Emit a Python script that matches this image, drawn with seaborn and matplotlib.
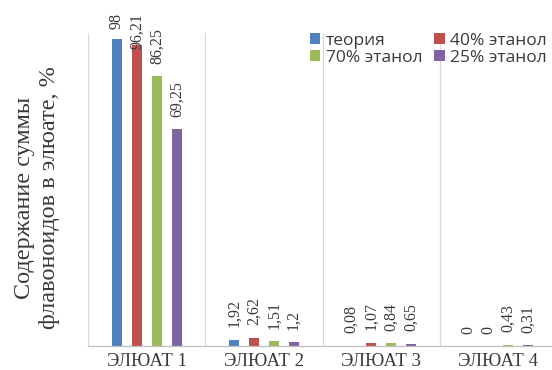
import matplotlib
matplotlib.use("Agg")
import matplotlib.pyplot as plt
import seaborn as sns
import pandas as pd
from matplotlib.ticker import FixedLocator

# Flavonoid content in each eluate, %
eluates = ["ЭЛЮАТ 1", "ЭЛЮАТ 2", "ЭЛЮАТ 3", "ЭЛЮАТ 4"]
series = ["теория", "40% этанол", "70% этанол", "25% этанол"]
theory = [98, 1.92, 0.08, 0]
ethanol_40 = [96.21, 2.62, 1.07, 0]
ethanol_70 = [86.25, 1.51, 0.84, 0.43]
ethanol_25 = [69.25, 1.2, 0.65, 0.31]
colors = ["#4F81BD", "#C0504D", "#9BBB59", "#8064A2"]

rows = []
for name, vals in zip(series, [theory, ethanol_40, ethanol_70, ethanol_25]):
    for el, v in zip(eluates, vals):
        rows.append({"eluate": el, "series": name, "value": v})
df = pd.DataFrame(rows)

sns.set_theme(style="white")
plt.rcParams["font.family"] = ["Liberation Serif", "DejaVu Serif"]

W, H = 552, 370
fig = plt.figure(figsize=(W / 100, H / 100), dpi=100)
ax = fig.add_axes([88 / W, 24 / H, 469 / W, 313 / H])

sns.barplot(data=df, x="eluate", y="value", hue="series", order=eluates,
            hue_order=series, palette=colors, width=0.68, gap=0.5,
            saturation=1, errorbar=None, legend=False, linewidth=0, ax=ax)

ax.set_xlim(-0.5, 3.5)
ax.set_ylim(0, 100)
ax.set_yticks([])
ax.set_xlabel("")
ax.set_ylabel("")
ax.xaxis.set_minor_locator(FixedLocator([-0.5, 0.5, 1.5, 2.5, 3.5]))
ax.grid(which="minor", axis="x", color="#D9D9D9", lw=0.9)
ax.set_axisbelow(True)
ax.tick_params(axis="x", which="both", length=0, pad=5, labelsize=13.5,
               labelcolor="#3A3A3A")
for s in ["top", "right", "left"]:
    ax.spines[s].set_visible(False)
ax.spines["bottom"].set_color("#BFBFBF")
ax.spines["bottom"].set_linewidth(0.9)

# value labels, comma as decimal separator
fmt = lambda v: f"{v:g}".replace(".", ",")
anns = []
for cont in ax.containers:
    anns += ax.bar_label(cont, fmt=fmt, rotation=90, padding=9,
                         fontsize=11.5, color="#3A3A3A")

# keep labels inside the chart area near the top edge
fig.canvas.draw()
renderer = fig.canvas.get_renderer()
limit = H - 13
for a in anns:
    bb = a.get_window_extent(renderer)
    if bb.y1 > limit:
        dx, dy = a.xyann
        a.xyann = (dx, dy - (bb.y1 - limit) * 72 / fig.dpi)

# legend, row-wise order
order = [0, 2, 1, 3]
leg = fig.legend([ax.containers[i] for i in order], [series[i] for i in order],
                 ncol=2, loc="upper left", bbox_to_anchor=(310 / W, 1 - 33 / H),
                 frameon=False, prop={"family": "Open Sans", "size": 12.5},
                 handlelength=0.6, handleheight=0.6, handletextpad=0.3,
                 columnspacing=0.7, labelspacing=0.05, borderpad=0,
                 borderaxespad=0)
for t in leg.get_texts():
    t.set_color("#3A3A3A")

fig.text(37 / W, 1 - 198 / H, "Содержание суммы\nфлавоноидов в элюате, %",
         rotation=90, ha="center", va="center", multialignment="center",
         fontsize=17.5, color="#3A3A3A", linespacing=1.22)

fig.savefig("out.png", dpi=100)
